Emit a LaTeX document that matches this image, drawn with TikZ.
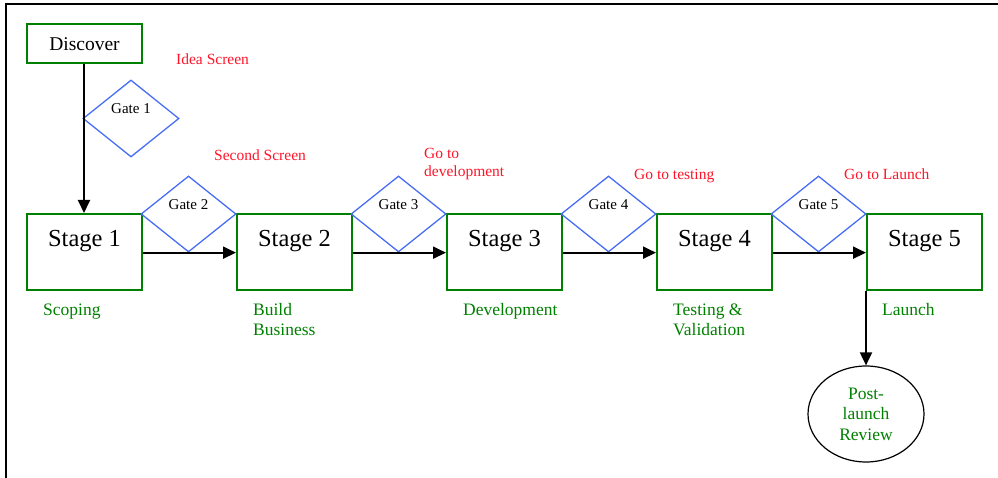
\documentclass[tikz,border=0pt]{standalone}
\usepackage{fontspec}
\setmainfont{Liberation Serif}
\usetikzlibrary{shapes.geometric,arrows.meta}
\definecolor{boxgreen}{RGB}{0,128,0}
\definecolor{gateblue}{RGB}{72,110,245}
\definecolor{notered}{RGB}{255,20,40}
\tikzset{
  stagebox/.style={draw=boxgreen, line width=2pt, minimum width=115pt, minimum height=76pt, inner sep=0pt, anchor=north west},
  gatebox/.style={draw=gateblue, line width=1.3pt, diamond, minimum width=95pt, minimum height=76pt, inner sep=0pt, aspect=1.25},
  stagetxt/.style={font=\fontsize{24.5}{28}\selectfont, anchor=base, yshift=-34pt},
  gatetxt/.style={font=\fontsize{15}{18}\selectfont, anchor=base, yshift=-34pt},
  rednote/.style={text=notered, font=\fontsize{15.5}{18}\selectfont, anchor=base west, align=left, inner sep=0pt},
  greennote/.style={text=boxgreen, font=\fontsize{17.5}{20}\selectfont, anchor=base west, align=left, inner sep=0pt},
  flow/.style={line width=1.9pt, -{Triangle[length=13pt,width=12pt]}},
}
\begin{document}
\begin{tikzpicture}[x=1pt,y=-1pt]
\useasboundingbox (0,0) rectangle (998,478);
% frame
\draw[line width=2.5pt] (6,478) -- (6,4) -- (998,4);
% discover
\node[stagebox, minimum height=39pt, label={[font=\fontsize{19.5}{22}\selectfont, anchor=base, yshift=-28pt]north:Discover}] (disc) at (26,23) {};
% gate 1
\node[gatebox, minimum width=96pt, minimum height=77pt, label={[gatetxt]north:Gate 1}] (g1) at (131,118.5) {};
% stages
\node[stagebox, label={[stagetxt]north:Stage 1}] (s1) at (26,213) {};
\node[stagebox, label={[stagetxt]north:Stage 2}] (s2) at (236,213) {};
\node[stagebox, label={[stagetxt]north:Stage 3}] (s3) at (446,213) {};
\node[stagebox, label={[stagetxt]north:Stage 4}] (s4) at (656,213) {};
\node[stagebox, label={[stagetxt]north:Stage 5}] (s5) at (866,213) {};
% gates between stages
\node[gatebox, label={[gatetxt]north:Gate 2}] (g2) at (188.5,214) {};
\node[gatebox, label={[gatetxt]north:Gate 3}] (g3) at (398.5,214) {};
\node[gatebox, label={[gatetxt]north:Gate 4}] (g4) at (608.5,214) {};
\node[gatebox, label={[gatetxt]north:Gate 5}] (g5) at (818.5,214) {};
% post-launch review
\node[draw, line width=1.2pt, ellipse, minimum width=116pt, minimum height=96pt, inner sep=0pt,
      text=boxgreen, font=\fontsize{17.5}{20.5}\selectfont, align=center] (post) at (866,414) {Post-\\launch\\Review};
% connectors
\draw[flow] (disc.south -| 84,0) -- (s1.north -| 84,0);
\draw[flow] (s1.east |- g2.south) -- (s2.west |- g2.south);
\draw[flow] (s2.east |- g3.south) -- (s3.west |- g3.south);
\draw[flow] (s3.east |- g4.south) -- (s4.west |- g4.south);
\draw[flow] (s4.east |- g5.south) -- (s5.west |- g5.south);
\draw[flow] (s5.south west) -- (post.north);
% red notes
\node[rednote] (n1) at (176,65) {Idea Screen};
\node[rednote] (n2) at (214,161) {Second Screen};
\node[rednote] (n3) at (424,177) {Go to\\development};
\node[rednote] (n4) at (634,180) {Go to testing};
\node[rednote] (n5) at (844,180) {Go to Launch};
% green notes
\node[greennote] (l1) at (43,315) {Scoping};
\node[greennote] (l2) at (253,335) {Build\\Business};
\node[greennote] (l3) at (463,315) {Development};
\node[greennote] (l4) at (673,335) {Testing \&\\Validation};
\node[greennote] (l5) at (882,315) {Launch};
\end{tikzpicture}
\end{document}
